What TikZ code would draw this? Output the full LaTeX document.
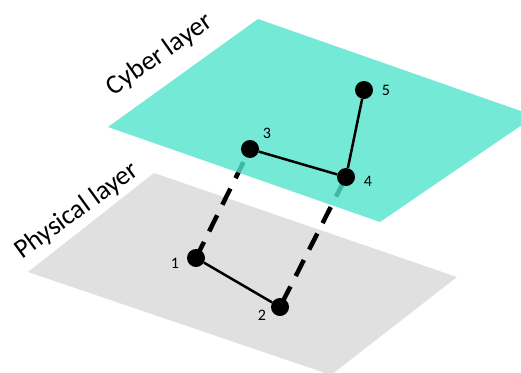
\documentclass[tikz,border=0pt]{standalone}
\usepackage{fontspec}
\setmainfont{Carlito}
\pgfdeclarelayer{planes}
\pgfdeclarelayer{links}
\pgfdeclarelayer{upper}
\pgfsetlayers{planes,links,upper,main}
\definecolor{cyberfill}{RGB}{81,228,204}
\definecolor{physfill}{RGB}{224,224,224}
\begin{document}
\begin{tikzpicture}[x=1pt,y=-1pt,
  vertex/.style={circle,fill=black,inner sep=0pt,minimum size=18pt},
  num/.style={font=\fontsize{16}{16}\selectfont,inner sep=0pt},
  layername/.style={font=\fontsize{27}{27}\selectfont,inner sep=0pt},
  link/.style={line width=2.5pt},
  tie/.style={line width=4.5pt,dash pattern=on 18pt off 11.7pt}]
\useasboundingbox (0,0) rectangle (521,372);

% vertices of both layers
\node[vertex] (n1) at (196,258) {};
\node[vertex] (n2) at (280,307) {};
\node[vertex] (n3) at (250,149) {};
\node[vertex] (n4) at (346,177) {};
\node[vertex] (n5) at (364,90) {};

% vertex numbers
\node[num] (l1) at (175,263) {1};
\node[num] (l2) at (262,315) {2};
\node[num] (l3) at (267,133) {3};
\node[num] (l4) at (368,181) {4};
\node[num] (l5) at (386,90) {5};

% layer names
\node[layername,rotate=35] (cyname) at (160,55) {Cyber layer};
\node[layername,rotate=36] (phname) at (77,211) {Physical layer};

% physical plane
\begin{pgfonlayer}{planes}
\clip (0,0) rectangle (521,372);
\fill[physfill] (28,272) -- (154,173) -- (457,277) -- (331,375) -- cycle;
\end{pgfonlayer}

% interlayer dependencies, partly seen through the cyber plane
\begin{pgfonlayer}{links}
\draw[tie] (n1.center) -- (n3.center);
\draw[tie,dash phase=24.7pt] (n2.center) -- (n4.center);
\end{pgfonlayer}

% cyber plane, slightly translucent
\begin{pgfonlayer}{upper}
\clip (0,0) rectangle (521,372);
\fill[cyberfill,fill opacity=0.8] (108,127) -- (258,19) -- (535,116) -- (380,222) -- cycle;
\end{pgfonlayer}

% intralayer edges
\draw[link] (n1) -- (n2);
\draw[link] (n3) -- (n4);
\draw[link] (n4) -- (n5);
\end{tikzpicture}
\end{document}
